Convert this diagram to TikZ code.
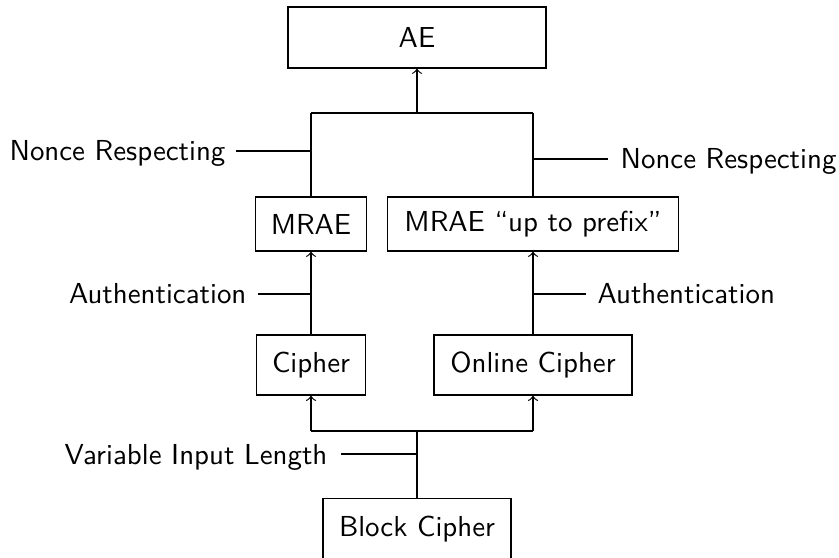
\documentclass[tikz,border=0pt]{standalone}
\begin{document}
\begin{tikzpicture}[x=0.346pt,y=-0.346pt,font=\sffamily,
  box/.style={draw,rectangle,inner sep=0pt},
  lbl/.style={inner sep=0pt},
  link/.style={draw},
  arr/.style={draw,->}]
\useasboundingbox (0,0) rectangle (839,558);
\clip (0,0) rectangle (839,558);
% boxes
\node[box,minimum width=89.3pt,minimum height=21.1pt] (ae) at (417,37.5) {AE};
\node[box,minimum width=38.4pt,minimum height=18.7pt] (mrae) at (311,224) {MRAE};
\node[box,minimum width=100.7pt,minimum height=18.7pt] (mraep) at (533,224) {MRAE “up to prefix”};
\node[box,minimum width=37.7pt,minimum height=20.8pt] (ciph) at (311,365) {Cipher};
\node[box,minimum width=68.5pt,minimum height=20.8pt] (oc) at (533,365) {Online Cipher};
\node[box,minimum width=65pt,minimum height=21pt] (bc) at (417,529) {Block Cipher};
% junction coordinates
\coordinate (top) at (417,113);
\coordinate (tl) at (311,113);
\coordinate (tr) at (533,113);
\coordinate (nl) at (311,151);
\coordinate (nle) at (236,151);
\coordinate (nr) at (533,159);
\coordinate (nre) at (608,159);
\coordinate (al) at (311,294);
\coordinate (ale) at (258,294);
\coordinate (ar) at (533,294);
\coordinate (are) at (586,294);
\coordinate (bl) at (311,431);
\coordinate (br) at (533,431);
\coordinate (bm) at (417,431);
\coordinate (vj) at (417,454);
\coordinate (ve) at (341,454);
% labels
\node[lbl,anchor=base east] (lnl) at (226,161) {Nonce Respecting};
\node[lbl,anchor=base west] (lnr) at (620,169) {Nonce Respecting};
\node[lbl,anchor=base east] (lal) at (247,304) {Authentication};
\node[lbl,anchor=base west] (lar) at (597,304) {Authentication};
\node[lbl,anchor=base east] (lvl) at (328,464) {Variable Input Length};
% connectors
\draw[arr] (top) -- (ae.south);
\draw[link] (tl) -- (tr);
\draw[link] (tl) -- (mrae.north);
\draw[link] (tr) -- (mraep.north);
\draw[link] (nle) -- (nl);
\draw[link] (nr) -- (nre);
\draw[arr] (ciph.north) -- (mrae.south);
\draw[arr] (oc.north) -- (mraep.south);
\draw[link] (ale) -- (al);
\draw[link] (ar) -- (are);
\draw[link] (bl) -- (br);
\draw[arr] (bl) -- (ciph.south);
\draw[arr] (br) -- (oc.south);
\draw[link] (bm) -- (bc.north);
\draw[link] (ve) -- (vj);
\end{tikzpicture}
\end{document}
